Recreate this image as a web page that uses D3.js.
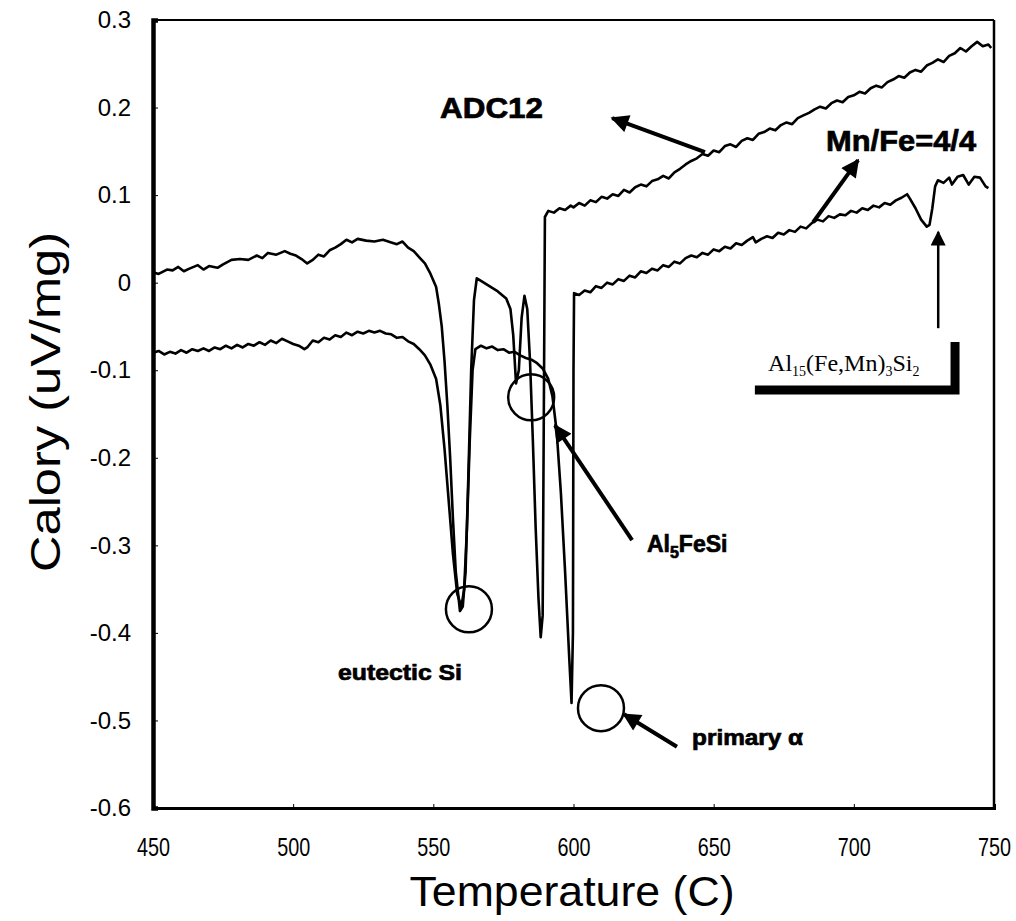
<!DOCTYPE html>
<html>
<head>
<meta charset="utf-8">
<script src="https://cdn.jsdelivr.net/npm/d3@7"></script>
<style>
  body { margin: 0; background: #fff; }
  svg text { fill: #000; }
  .heavy { stroke: #000; stroke-width: 0.7px; font-weight: bold; }
</style>
</head>
<body>
<div id="chart"></div>
<script>
// DSC traces, [temperature C, calory uV/mg]
var adc12 = [
  [450, 0.012], [452, 0.010], [455, 0.015], [457, 0.014], [459, 0.018], [461, 0.013],
  [463, 0.016], [466, 0.020], [468, 0.015], [470, 0.019], [473, 0.017], [475, 0.021],
  [478, 0.026], [481, 0.027], [484, 0.026], [487, 0.031], [489, 0.028], [491, 0.034],
  [494, 0.032], [497, 0.036], [499, 0.033], [501, 0.031], [503, 0.027], [505, 0.022],
  [507, 0.026], [509, 0.032], [511, 0.030], [513, 0.037], [515, 0.040], [517, 0.044],
  [519, 0.049], [521, 0.046], [523, 0.050], [526, 0.048], [529, 0.047], [532, 0.049],
  [535, 0.046], [537, 0.044], [539, 0.047], [541, 0.040], [543, 0.036], [545, 0.029],
  [547, 0.022], [549, 0.010], [551, -0.005], [552, -0.025], [553, -0.05], [554, -0.09],
  [555, -0.14], [556, -0.20], [557, -0.27], [558, -0.33], [559.5, -0.375], [560.5, -0.37],
  [561.5, -0.33], [562.5, -0.22], [563.5, -0.10], [564.5, -0.02], [565.5, 0.005],
  [567, 0.002], [570, -0.004], [573, -0.010], [576, -0.018], [577.5, -0.030],
  [578.5, -0.06], [579.5, -0.115], [580.5, -0.10], [581.5, -0.04], [582.5, -0.015],
  [583.5, -0.03], [584.5, -0.09], [585.5, -0.18], [586.5, -0.28], [587.5, -0.36],
  [588.3, -0.405], [589, -0.38], [589.5, -0.10], [589.8, 0.075], [591, 0.082],
  [593, 0.080], [595, 0.085], [597, 0.083], [599, 0.088], [600, 0.086], [602, 0.091],
  [604, 0.088], [606, 0.094], [608, 0.092], [610, 0.098], [612, 0.096], [614, 0.101],
  [616, 0.099], [618, 0.106], [620, 0.103], [622, 0.109], [624, 0.112], [626, 0.110],
  [628, 0.116], [630, 0.118], [632, 0.122], [634, 0.119], [636, 0.126], [638, 0.130],
  [640, 0.135], [642, 0.139], [644, 0.142], [646, 0.147], [648, 0.145], [650, 0.151],
  [652, 0.149], [654, 0.156], [656, 0.158], [658, 0.155], [660, 0.162], [662, 0.165],
  [664, 0.163], [666, 0.170], [668, 0.172], [670, 0.176], [672, 0.174], [674, 0.180],
  [676, 0.183], [678, 0.181], [680, 0.188], [682, 0.191], [684, 0.194], [686, 0.198],
  [688, 0.201], [690, 0.199], [692, 0.205], [694, 0.208], [696, 0.206], [698, 0.212],
  [700, 0.214], [702, 0.218], [704, 0.216], [706, 0.222], [708, 0.225], [710, 0.223],
  [712, 0.229], [714, 0.232], [716, 0.236], [718, 0.234], [720, 0.240], [722, 0.243],
  [724, 0.241], [726, 0.248], [728, 0.251], [730, 0.255], [732, 0.252], [734, 0.259],
  [736, 0.262], [738, 0.268], [740, 0.264], [742, 0.270], [744, 0.275], [746, 0.270],
  [748, 0.272], [749, 0.268]
];

var mnfe = [
  [450, -0.080], [452, -0.078], [454, -0.082], [456, -0.079], [458, -0.081], [460, -0.077],
  [462, -0.080], [464, -0.076], [466, -0.078], [468, -0.075], [470, -0.078], [472, -0.074],
  [474, -0.076], [476, -0.072], [478, -0.075], [480, -0.071], [482, -0.074], [484, -0.070],
  [486, -0.072], [488, -0.068], [490, -0.071], [492, -0.066], [494, -0.069], [496, -0.064],
  [498, -0.067], [500, -0.070], [502, -0.072], [504, -0.076], [505, -0.074], [507, -0.066],
  [509, -0.068], [511, -0.063], [513, -0.065], [515, -0.060], [517, -0.062], [519, -0.057],
  [521, -0.060], [523, -0.056], [525, -0.058], [527, -0.055], [529, -0.057], [531, -0.055],
  [533, -0.058], [535, -0.059], [537, -0.063], [539, -0.062], [541, -0.067], [543, -0.070],
  [545, -0.076], [547, -0.083], [549, -0.094], [551, -0.11], [552.5, -0.14], [554, -0.19],
  [555.5, -0.25], [557, -0.31], [558.5, -0.355], [560, -0.37], [561, -0.35], [562, -0.28],
  [563, -0.18], [564, -0.10], [565, -0.076], [567, -0.072], [569, -0.075], [571, -0.073],
  [573, -0.077], [575, -0.076], [577, -0.080], [579, -0.079], [581, -0.083], [583, -0.086],
  [585, -0.088], [587, -0.092], [589, -0.098], [591, -0.11], [592.5, -0.13], [594, -0.17],
  [595.5, -0.24], [597, -0.33], [598.5, -0.43], [599.3, -0.48], [599.8, -0.40],
  [600.0, -0.10], [600.2, -0.012], [602, -0.014], [604, -0.009], [606, -0.011], [608, -0.004],
  [610, -0.006], [612, 0.000], [614, -0.002], [616, 0.004], [618, 0.002], [620, 0.008],
  [622, 0.006], [624, 0.013], [626, 0.011], [628, 0.016], [630, 0.014], [632, 0.020],
  [634, 0.018], [636, 0.024], [638, 0.022], [640, 0.028], [642, 0.031], [644, 0.029],
  [646, 0.034], [648, 0.032], [650, 0.038], [652, 0.036], [654, 0.041], [656, 0.039],
  [658, 0.045], [660, 0.043], [662, 0.048], [664, 0.052], [665, 0.046], [667, 0.050],
  [669, 0.053], [671, 0.051], [673, 0.057], [675, 0.055], [677, 0.060], [679, 0.058],
  [681, 0.064], [683, 0.062], [685, 0.068], [687, 0.072], [689, 0.070], [691, 0.076],
  [693, 0.074], [695, 0.078], [697, 0.077], [699, 0.082], [701, 0.080], [703, 0.085],
  [705, 0.083], [707, 0.088], [709, 0.086], [711, 0.091], [713, 0.089], [715, 0.094],
  [717, 0.097], [719, 0.101], [720, 0.096], [722, 0.085], [724, 0.072], [726, 0.064],
  [727, 0.066], [728, 0.085], [729, 0.110], [730, 0.117], [732, 0.114], [734, 0.120],
  [735, 0.112], [737, 0.121], [739, 0.123], [741, 0.112], [743, 0.121], [745, 0.120],
  [747, 0.110], [748, 0.108]
];

var xTicks = [450, 500, 550, 600, 650, 700, 750];
var yTicks = [0.3, 0.2, 0.1, 0, -0.1, -0.2, -0.3, -0.4, -0.5, -0.6];
var yTickLabels = ["0.3", "0.2", "0.1", "0", "-0.1", "-0.2", "-0.3", "-0.4", "-0.5", "-0.6"];

// circled features [T, V]
var circles = [[562.7, -0.373], [584.9, -0.131], [609.8, -0.486]];

var margin = { top: 20, right: 22, bottom: 113, left: 153 };
var width = 1016 - margin.left - margin.right;
var height = 921 - margin.top - margin.bottom;

var x = d3.scaleLinear().domain([450, 750]).range([0, width]);
var y = d3.scaleLinear().domain([-0.6, 0.3]).range([height, 0]);

var svg = d3.select("#chart").append("svg")
  .attr("width", 1016)
  .attr("height", 921)
  .style("font-family", "Arial, 'Liberation Sans', sans-serif");

var defs = svg.append("defs");
defs.append("marker")
  .attr("id", "head")
  .attr("viewBox", "0 0 10 10")
  .attr("refX", 9).attr("refY", 5)
  .attr("markerWidth", 5).attr("markerHeight", 4.5)
  .attr("markerUnits", "strokeWidth")
  .attr("orient", "auto")
  .append("path").attr("d", "M0,0 L10,5 L0,10 Z").attr("fill", "#000");
defs.append("marker")
  .attr("id", "headThin")
  .attr("viewBox", "0 0 10 10")
  .attr("refX", 9).attr("refY", 5)
  .attr("markerWidth", 7).attr("markerHeight", 6)
  .attr("markerUnits", "strokeWidth")
  .attr("orient", "auto")
  .append("path").attr("d", "M0,0 L10,5 L0,10 Z").attr("fill", "#000");

var g = svg.append("g")
  .attr("transform", "translate(" + margin.left + "," + margin.top + ")");

// frame
g.append("line").attr("x1", 0).attr("x2", width).attr("y1", 0).attr("y2", 0)
  .attr("stroke", "#000").attr("stroke-width", 2);
g.append("line").attr("x1", width).attr("x2", width).attr("y1", 0).attr("y2", height)
  .attr("stroke", "#000").attr("stroke-width", 2.5);

// axes
var xAxis = g.append("g")
  .attr("transform", "translate(0," + height + ")")
  .call(d3.axisBottom(x).tickValues(xTicks).tickSize(-4).tickPadding(30)
    .tickFormat(d3.format("d")));
xAxis.select(".domain").attr("stroke-width", 3);
xAxis.selectAll("text")
  .attr("dx", 0)
  .attr("textLength", 33).attr("lengthAdjust", "spacingAndGlyphs")
  .style("font-size", "26px");

var yAxis = g.append("g")
  .call(d3.axisLeft(y).tickValues(yTicks).tickSize(-5).tickPadding(22)
    .tickFormat(function (d, i) { return yTickLabels[i]; }));
yAxis.select(".domain").attr("stroke-width", 4.5);
yAxis.selectAll("text")
  .style("font-size", "24px");

// curves
var line = d3.line()
  .x(function (d) { return x(d[0]); })
  .y(function (d) { return y(d[1]); });

g.append("path").datum(adc12)
  .attr("d", line)
  .attr("fill", "none").attr("stroke", "#000")
  .attr("stroke-width", 2.6).attr("stroke-linejoin", "round");

g.append("path").datum(mnfe)
  .attr("d", line)
  .attr("fill", "none").attr("stroke", "#000")
  .attr("stroke-width", 2.6).attr("stroke-linejoin", "round");

// circles
g.selectAll("circle.mark")
  .data(circles)
  .enter().append("circle")
  .attr("class", "mark")
  .attr("cx", function (d) { return x(d[0]); })
  .attr("cy", function (d) { return y(d[1]); })
  .attr("r", 23)
  .attr("fill", "none").attr("stroke", "#000").attr("stroke-width", 2.5);

// arrows [T1, V1, T2, V2]
var arrows = [
  [646.9, 0.149, 613.8, 0.188],
  [685.5, 0.069, 701.5, 0.140],
  [620.9, -0.294, 593.4, -0.163],
  [636.9, -0.530, 618.0, -0.493]
];
g.selectAll("line.arrow")
  .data(arrows)
  .enter().append("line")
  .attr("class", "arrow")
  .attr("x1", function (d) { return x(d[0]); })
  .attr("y1", function (d) { return y(d[1]); })
  .attr("x2", function (d) { return x(d[2]); })
  .attr("y2", function (d) { return y(d[3]); })
  .attr("stroke", "#000").attr("stroke-width", 4)
  .attr("marker-end", "url(#head)");

// thin vertical arrow to the Al15 dip
g.append("line")
  .attr("x1", x(730.1)).attr("y1", y(-0.052))
  .attr("x2", x(730.1)).attr("y2", y(0.058))
  .attr("stroke", "#000").attr("stroke-width", 2.5)
  .attr("marker-end", "url(#headThin)");

// L-shaped bar under the Al15 label
g.append("path")
  .attr("d", "M" + x(664.7) + "," + y(-0.1226) + " L" + x(736.1) + "," + y(-0.1226) +
    " L" + x(736.1) + "," + y(-0.0678))
  .attr("fill", "none").attr("stroke", "#000").attr("stroke-width", 9);

// labels
g.append("text")
  .attr("class", "heavy")
  .attr("x", x(552.4)).attr("y", y(0.188))
  .attr("textLength", 103).attr("lengthAdjust", "spacingAndGlyphs")
  .style("font-size", "29px")
  .text("ADC12");

g.append("text")
  .attr("class", "heavy")
  .attr("x", x(690.1)).attr("y", y(0.150))
  .attr("textLength", 150).attr("lengthAdjust", "spacingAndGlyphs")
  .style("font-size", "29px")
  .text("Mn/Fe=4/4");

var alFe = g.append("text")
  .attr("class", "heavy")
  .attr("x", x(626.2)).attr("y", y(-0.308))
  .style("font-size", "23px");
alFe.append("tspan").text("Al");
alFe.append("tspan").attr("dy", 6).style("font-size", "16px").text("5");
alFe.append("tspan").attr("dy", -6).text("FeSi");

g.append("text")
  .attr("class", "heavy")
  .attr("x", x(516.0)).attr("y", y(-0.454))
  .attr("textLength", 124).attr("lengthAdjust", "spacingAndGlyphs")
  .style("font-size", "22px")
  .text("eutectic Si");

g.append("text")
  .attr("class", "heavy")
  .attr("x", x(642.3)).attr("y", y(-0.528))
  .attr("textLength", 111).attr("lengthAdjust", "spacingAndGlyphs")
  .style("font-size", "22px")
  .text("primary \u03b1");

var al15 = g.append("text")
  .attr("x", x(669.4)).attr("y", y(-0.101))
  .style("font-family", "'Liberation Serif', 'Times New Roman', serif")
  .style("font-size", "24px");
al15.append("tspan").text("Al");
al15.append("tspan").attr("dy", 5).style("font-size", "14px").text("15");
al15.append("tspan").attr("dy", -5).text("(Fe,Mn)");
al15.append("tspan").attr("dy", 5).style("font-size", "14px").text("3");
al15.append("tspan").attr("dy", -5).text("Si");
al15.append("tspan").attr("dy", 5).style("font-size", "14px").text("2");

// axis titles
svg.append("text")
  .attr("transform", "translate(60,402) rotate(-90)")
  .attr("text-anchor", "middle")
  .attr("textLength", 340).attr("lengthAdjust", "spacingAndGlyphs")
  .style("font-size", "42px")
  .text("Calory  (uV/mg)");

svg.append("text")
  .attr("x", 572).attr("y", 906)
  .attr("text-anchor", "middle")
  .attr("textLength", 325).attr("lengthAdjust", "spacingAndGlyphs")
  .style("font-size", "43px")
  .text("Temperature  (C)");
</script>
</body>
</html>
